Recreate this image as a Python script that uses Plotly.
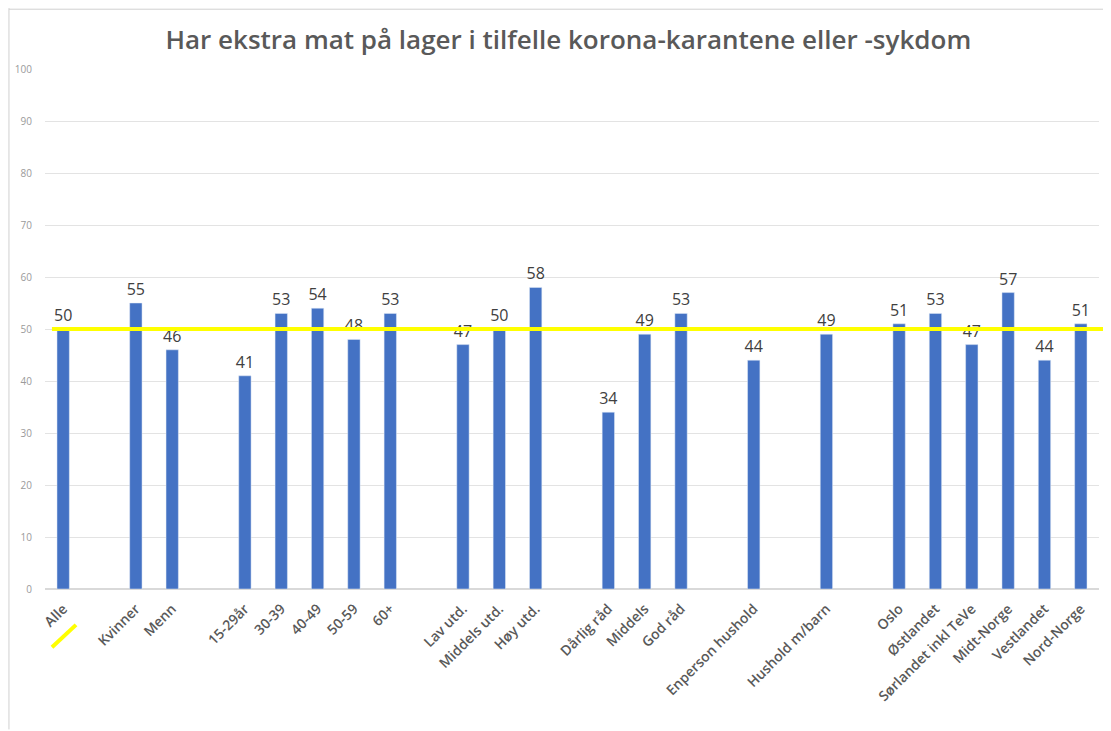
import plotly.graph_objects as go

categories = ["Alle", " ", "Kvinner", "Menn", "  ", "15-29år", "30-39", "40-49", "50-59", "60+",
              "   ", "Lav utd.", "Middels utd.", "Høy utd.", "    ", "Dårlig råd", "Middels", "God råd",
              "     ", "Enperson hushold", "      ", "Hushold m/barn", "       ",
              "Oslo", "Østlandet", "Sørlandet inkl TeVe", "Midt-Norge", "Vestlandet", "Nord-Norge"]
values = [50, None, 55, 46, None, 41, 53, 54, 48, 53,
          None, 47, 50, 58, None, 34, 49, 53,
          None, 44, None, 49, None,
          51, 53, 47, 57, 44, 51]
reference_level = 50
y_ticks = [0, 10, 20, 30, 40, 50, 60, 70, 80, 90, 100]

labels = ["" if v is None else str(v) for v in values]

fig = go.Figure(go.Bar(
    x=categories, y=values, text=labels, textposition="outside",
    marker_color="#4472C4", cliponaxis=False,
    textfont=dict(family="Open Sans", size=16, color="#404040"),
))

fig.update_layout(
    width=1103, height=723,
    margin=dict(l=37, r=12, t=61, b=142),
    paper_bgcolor="white", plot_bgcolor="white",
    bargap=0.66, showlegend=False, uniformtext=dict(minsize=16, mode="show"),
    title=dict(text="Har ekstra mat på lager i tilfelle korona-karantene eller -sykdom",
               x=0.508, xanchor="center", y=0.956, yanchor="middle",
               font=dict(family="Open Sans", size=26, color="#595959", weight=600)),
    xaxis=dict(type="category", tickangle=-45, showgrid=False, zeroline=False,
               showline=False, ticks="", automargin=False, ticklabelstandoff=8,
               tickfont=dict(family="Open Sans", size=14, color="#595959", weight=600)),
    yaxis=dict(range=[0, 100], tickvals=y_ticks, showgrid=True, gridcolor="#E3E3E3",
               gridwidth=1, zeroline=True, zerolinecolor="#D9D9D9", showline=False,
               ticks="", automargin=False,
               tickfont=dict(family="Open Sans", size=10, color="#9A9A9A"),
               ticklabelstandoff=12),
)

# frame of the original chart image
fig.add_shape(type="line", xref="paper", yref="paper", x0=-0.0342, x1=-0.0342, y0=-0.27, y1=1.117,
              line=dict(color="#D0D0D0", width=1))
fig.add_shape(type="line", xref="paper", yref="paper", x0=-0.0342, x1=1.02, y0=1.115, y1=1.115,
              line=dict(color="#D0D0D0", width=1))

# yellow reference line
fig.add_shape(type="line", xref="paper", yref="y", x0=0.0066, x1=1.02,
              y0=reference_level, y1=reference_level,
              line=dict(color="#FFFF00", width=4))
# yellow marker under "Alle"
fig.add_shape(type="line", xref="paper", yref="paper", x0=0.0066, x1=0.0294, y0=-0.112, y1=-0.069,
              line=dict(color="#FFFF00", width=4))

fig.write_html("out.html")
